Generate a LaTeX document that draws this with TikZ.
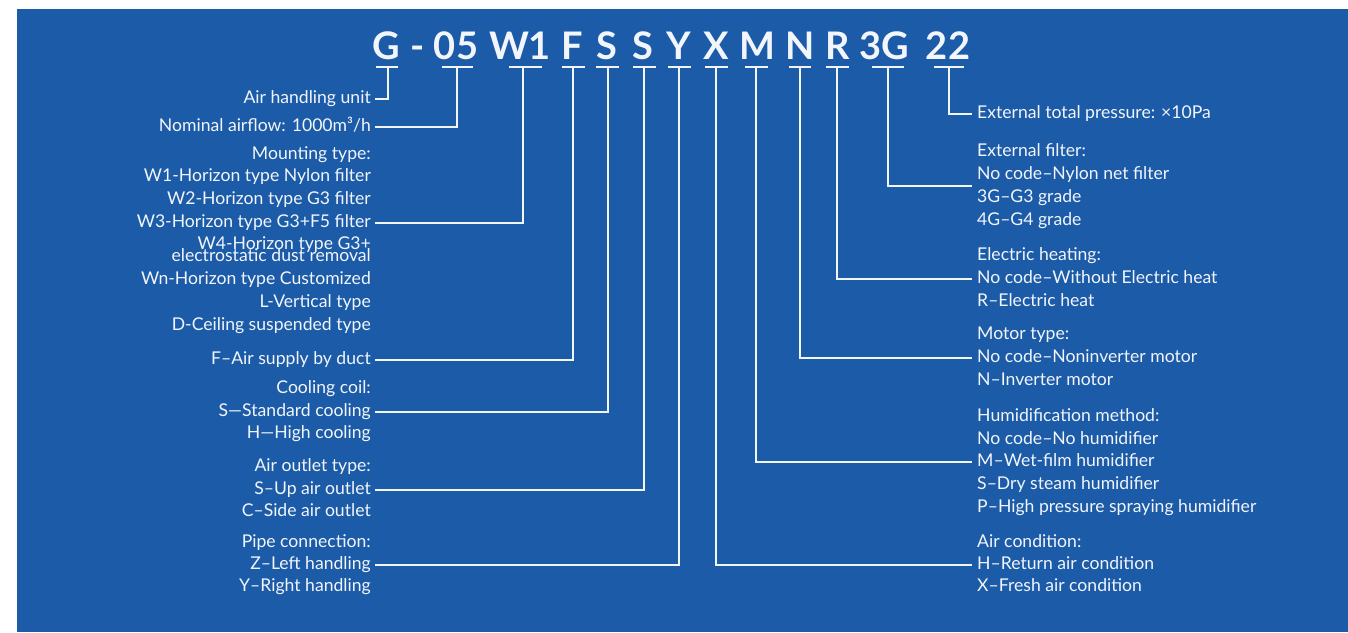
\documentclass[tikz,border=0pt]{standalone}
\usepackage{fontspec}
\setmainfont{Lato}
\definecolor{bgblue}{RGB}{27,91,168}
\definecolor{txt}{RGB}{242,245,250}
\begin{document}
\begin{tikzpicture}[x=1pt,y=-1pt,
  code/.style={text=txt,font=\fontsize{38}{40}\selectfont\bfseries,anchor=base,inner sep=0pt},
  ltext/.style={text=txt,font=\fontsize{17.6}{19}\selectfont,anchor=east,inner ysep=0pt,inner xsep=4pt,text height=12.5pt,text depth=3.5pt},
  rtext/.style={text=txt,font=\fontsize{17.6}{19}\selectfont,anchor=west,inner ysep=0pt,inner xsep=5pt,text height=12.5pt,text depth=3.5pt},
  conn/.style={draw=txt,line width=1.1pt},
  uline/.style={draw=txt,line width=1.8pt}]
\useasboundingbox (0,0) rectangle (1348,632);
\fill[white] (0,0) rectangle (1348,632);
\fill[bgblue] (17,9) rectangle (1348,632);
% code letters
\node[code] (cG) at (386,59) {G};
\node[code] (cD) at (418,59) {-};
\node[code] (c05) at (456,59) {05};
\node[code] (cW) at (520,59) {W1};
\node[code] (cF) at (572,59) {F};
\node[code] (cS1) at (607,59) {S};
\node[code] (cS2) at (643,59) {S};
\node[code] (cY) at (679,59) {Y};
\node[code] (cX) at (716,59) {X};
\node[code] (cM) at (757,59) {M};
\node[code] (cN) at (800,59) {N};
\node[code] (cR) at (838,59) {R};
\node[code] (c3G) at (884,59) {3G};
\node[code] (c22) at (948,59) {22};
% underlines
\draw[uline] (376,67) -- (398,67);
\draw[uline] (442,67) -- (473,67);
\draw[uline] (509,67) -- (542,67);
\draw[uline] (562,67) -- (585,67);
\draw[uline] (596,67) -- (619,67);
\draw[uline] (633,67) -- (656,67);
\draw[uline] (668,67) -- (691,67);
\draw[uline] (705,67) -- (728,67);
\draw[uline] (745,67) -- (768,67);
\draw[uline] (789,67) -- (811,67);
\draw[uline] (826,67) -- (849,67);
\draw[uline] (872,67) -- (904,67);
\draw[uline] (934,67) -- (964,67);
% left texts
\node[ltext] (tAir) at (375,99) {Air handling unit};
\node[ltext] (tNom) at (375,127) {Nominal airflow: 1000m³/h};
\node[ltext] (tMt) at (375,155) {Mounting type:};
\node[ltext] (tW1) at (375,177) {W1-Horizon type Nylon filter};
\node[ltext] (tW2) at (375,200) {W2-Horizon type G3 filter};
\node[ltext] (tW3) at (375,223) {W3-Horizon type G3+F5 filter};
\node[ltext] (tW4) at (375,245) {W4-Horizon type G3+};
\node[ltext] (tW4b) at (375,257) {electrostatic dust removal};
\node[ltext] (tWn) at (375,280) {Wn-Horizon type Customized};
\node[ltext] (tL) at (375,303) {L-Vertical type};
\node[ltext] (tDc) at (375,326) {D-Ceiling suspended type};
\node[ltext] (tF) at (375,360) {F–Air supply by duct};
\node[ltext] (tCc) at (375,389) {Cooling coil:};
\node[ltext] (tSs) at (375,412) {S—Standard cooling};
\node[ltext] (tHh) at (375,434) {H—High cooling};
\node[ltext] (tAo) at (375,467) {Air outlet type:};
\node[ltext] (tSu) at (375,490) {S–Up air outlet};
\node[ltext] (tCs) at (375,512) {C–Side air outlet};
\node[ltext] (tPc) at (375,543) {Pipe connection:};
\node[ltext] (tZ) at (375,565) {Z–Left handling};
\node[ltext] (tYr) at (375,587) {Y–Right handling};
% right texts
\node[rtext] (tEp) at (972,114) {External total pressure: ×10Pa};
\node[rtext] (tEf) at (972,152) {External filter:};
\node[rtext] (tNf) at (972,175) {No code–Nylon net filter};
\node[rtext] (t3G) at (972,198) {3G–G3 grade};
\node[rtext] (t4G) at (972,221) {4G–G4 grade};
\node[rtext] (tEh) at (972,256) {Electric heating:};
\node[rtext] (tNe) at (972,279) {No code–Without Electric heat};
\node[rtext] (tRe) at (972,302) {R–Electric heat};
\node[rtext] (tMo) at (972,335) {Motor type:};
\node[rtext] (tNn) at (972,358) {No code–Noninverter motor};
\node[rtext] (tNi) at (972,381) {N–Inverter motor};
\node[rtext] (tHm) at (972,417) {Humidification method:};
\node[rtext] (tNh) at (972,440) {No code–No humidifier};
\node[rtext] (tMw) at (972,462) {M–Wet-film humidifier};
\node[rtext] (tSd) at (972,485) {S–Dry steam humidifier};
\node[rtext] (tPh) at (972,508) {P–High pressure spraying humidifier};
\node[rtext] (tAc) at (972,543) {Air condition:};
\node[rtext] (tHr) at (972,565) {H–Return air condition};
\node[rtext] (tXf) at (972,587) {X–Fresh air condition};
\coordinate (k3G) at (972,186);
% connectors
\draw[conn] (388,67) |- (tAir.east);
\draw[conn] (457,67) |- (tNom.east);
\draw[conn] (523,67) |- (tW3.east);
\draw[conn] (573,67) |- (tF.east);
\draw[conn] (608,67) |- (tSs.east);
\draw[conn] (644,67) |- (tSu.east);
\draw[conn] (679,67) |- (tZ.east);
\draw[conn] (716,67) |- (tHr.west);
\draw[conn] (756,67) |- (tMw.west);
\draw[conn] (800,67) |- (tNn.west);
\draw[conn] (837,67) |- (tNe.west);
\draw[conn] (888,67) |- (k3G);
\draw[conn] (949,67) |- (tEp.west);
\end{tikzpicture}
\end{document}
